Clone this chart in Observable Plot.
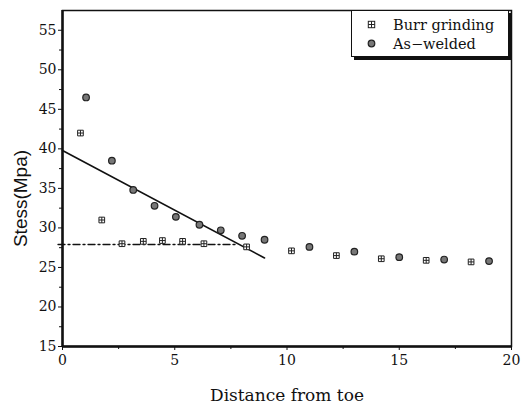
<!DOCTYPE html>
<html>
<head>
<meta charset="utf-8">
<script src="https://cdn.jsdelivr.net/npm/d3@7"></script>
<script src="https://cdn.jsdelivr.net/npm/@observablehq/plot@0.6"></script>
<style>
  html, body { margin: 0; padding: 0; background: #fff; }
  #wrap { position: relative; width: 521px; height: 408px; }
  #legend {
    position: absolute; left: 351px; top: 10px; width: 156px; height: 45px;
    background: #fff; border: 1px solid #111; box-shadow: 3px 3px 0 #111;
    font-family: "DejaVu Serif", serif; font-size: 14.5px; color: #111;
  }
  #legend .row { display: flex; align-items: center; height: 19px; margin-left: 15px; }
  #legend svg { margin-right: 17px; }
</style>
</head>
<body>
<div id="wrap"></div>
<script>
// Data
const burrX = [0.8, 1.75, 2.65, 3.6, 4.45, 5.35, 6.3, 8.2, 10.2, 12.2, 14.2, 16.2, 18.2];
const burrY = [42.0, 31.0, 28.0, 28.3, 28.4, 28.3, 28.0, 27.6, 27.1, 26.5, 26.1, 25.9, 25.7];
const weldX = [1.05, 2.2, 3.15, 4.1, 5.05, 6.1, 7.05, 8.0, 9.0, 11.0, 13.0, 15.0, 17.0, 19.0];
const weldY = [46.5, 38.5, 34.8, 32.8, 31.4, 30.4, 29.7, 29.0, 28.5, 27.6, 27.0, 26.3, 26.0, 25.8];
const fitX = [0, 9];
const fitY = [39.8, 26.2];
const flatX = [-0.2, 7.8];
const flatY = [27.9, 27.9];
const xTicks = [0, 5, 10, 15, 20];
const xMinor = [2.5, 7.5, 12.5, 17.5];
const yTicks = [15, 20, 25, 30, 35, 40, 45, 50, 55];
const yMinor = [17.5, 22.5, 27.5, 32.5, 37.5, 42.5, 47.5, 52.5];
const seriesNames = ["Burr grinding", "As\u2212welded"];

const burr = burrX.map((x, i) => ({x, y: burrY[i]}));
const weld = weldX.map((x, i) => ({x, y: weldY[i]}));
const fit = fitX.map((x, i) => ({x, y: fitY[i]}));
const flat = flatX.map((x, i) => ({x, y: flatY[i]}));

// square with plus symbol
const squarePlus = {
  draw(ctx, size) {
    const r = Math.sqrt(size) / 2;
    ctx.moveTo(-r, -r); ctx.lineTo(r, -r); ctx.lineTo(r, r); ctx.lineTo(-r, r); ctx.closePath();
    ctx.moveTo(-r, 0); ctx.lineTo(r, 0);
    ctx.moveTo(0, -r); ctx.lineTo(0, r);
  }
};

const serif = "DejaVu Serif";
const chart = Plot.plot({
  width: 521,
  height: 408,
  marginLeft: 62,
  marginRight: 10,
  marginTop: 10,
  marginBottom: 62,
  style: {fontFamily: serif, fontSize: "13px", color: "#111", background: "#fff"},
  x: {domain: [0, 20]},
  y: {domain: [15, 57.5]},
  marks: [
    Plot.frame({stroke: "#111", strokeWidth: 1.5}),
    Plot.axisX({ticks: xTicks, tickSize: 4, tickPadding: 5, fontSize: 14, label: null, stroke: "#111"}),
    Plot.axisX({ticks: xMinor, tickSize: 3, text: null, label: null}),
    Plot.axisY({ticks: yTicks, tickSize: 4, tickPadding: 2, fontSize: 14, label: null}),
    Plot.axisY({ticks: yMinor, tickSize: 3, text: null, label: null}),
    Plot.ruleX([0], {stroke: "#111", strokeWidth: 2.5}),
    Plot.ruleY([15], {stroke: "#111", strokeWidth: 2.5}),
    Plot.line(flat, {x: "x", y: "y", stroke: "#111", strokeWidth: 1.3, strokeDasharray: "7,3,2,3", clip: false}),
    Plot.line(fit, {x: "x", y: "y", stroke: "#111", strokeWidth: 1.6}),
    Plot.dot(burr, {x: "x", y: "y", symbol: squarePlus, r: 3.2, stroke: "#222", strokeWidth: 1, fill: "#fff"}),
    Plot.dot(weld, {x: "x", y: "y", symbol: "circle", r: 3.3, stroke: "#222", strokeWidth: 1.2, fill: "#777"}),
    Plot.text(["Distance from toe"], {frameAnchor: "bottom", dy: 54, fontSize: 17, fontFamily: serif, fill: "#111"}),
    Plot.text(["Stess(Mpa)"], {frameAnchor: "left", textAnchor: "middle", dx: -42, dy: 20, rotate: -90, fontSize: 19, fontFamily: "Liberation Sans", fill: "#111"})
  ]
});

const wrap = document.getElementById("wrap");
wrap.appendChild(chart);

const legend = document.createElement("div");
legend.id = "legend";
const sym1 = `<svg width="9" height="9" viewBox="-4.5 -4.5 9 9"><rect x="-3.2" y="-3.2" width="6.4" height="6.4" fill="#fff" stroke="#222"/><path d="M-3.2,0H3.2M0,-3.2V3.2" stroke="#222"/></svg>`;
const sym2 = `<svg width="9" height="9" viewBox="-4.5 -4.5 9 9"><circle r="3.3" fill="#777" stroke="#222" stroke-width="1.2"/></svg>`;
legend.innerHTML = `<div style="height:4px"></div><div class="row">${sym1}<span>${seriesNames[0]}</span></div><div class="row">${sym2}<span>${seriesNames[1]}</span></div>`;
wrap.appendChild(legend);
</script>
</body>
</html>
